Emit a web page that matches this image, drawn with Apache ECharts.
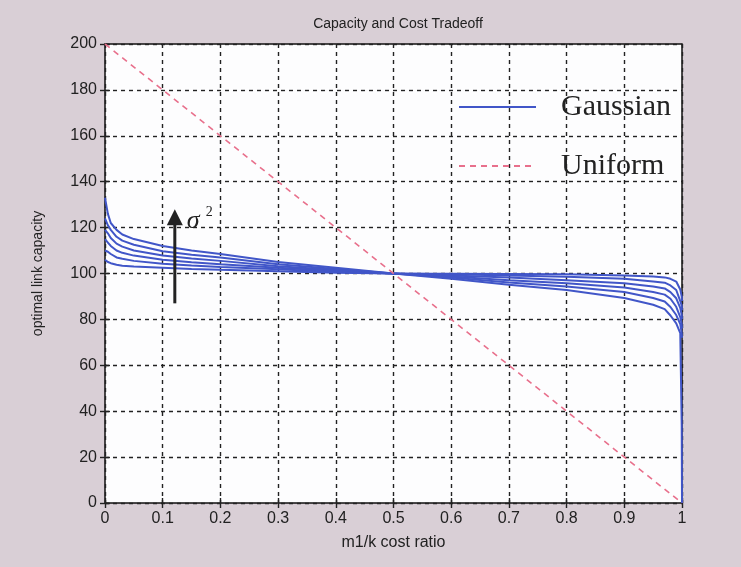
<!DOCTYPE html>
<html>
<head>
<meta charset="utf-8">
<script src="https://cdn.jsdelivr.net/npm/echarts@6/dist/echarts.min.js"></script>
<style>
  html, body { margin: 0; padding: 0; background: #d9cfd6; }
  #chart { width: 741px; height: 567px; }
</style>
</head>
<body>
<div id="chart"></div>
<script>
// m1/k cost ratio sample points
let ratio = [0, 0.005, 0.01, 0.02, 0.03, 0.05, 0.1, 0.15, 0.2, 0.3, 0.4, 0.5, 0.6, 0.7, 0.8, 0.9, 0.95, 0.97, 0.98, 0.99, 0.997, 0.9995, 1];

// gaussian curves, smallest variance first
let gauss1 = [106, 105, 104.5, 103.8, 103.4, 103, 102.5, 102, 101.6, 101, 100.3, 100, 99.9, 99.8, 99.7, 99.1, 98.7, 98.3, 97.7, 96.5, 93, 90, 88];
let gauss2 = [110, 109.5, 108.5, 107, 106.4, 105.5, 104.3, 103.5, 102.8, 101.8, 100.7, 100, 99.7, 99.1, 98.6, 97.7, 96.5, 96, 94.8, 92.8, 88, 86, 84];
let gauss3 = [115, 113.5, 112, 110, 109, 107.8, 106, 104.9, 104, 102.5, 101.1, 100, 99.1, 98.3, 97.1, 95.8, 94.3, 93.5, 91.9, 89.2, 85, 82, 80];
let gauss4 = [119, 117.5, 115.5, 113, 111.7, 110, 107.8, 106.5, 105.5, 103.2, 101.5, 100, 98.7, 97.1, 95.8, 93.9, 91.9, 90.8, 89, 85.5, 81, 78, 76];
let gauss5 = [124, 121, 119, 116, 114.3, 112.5, 109.7, 108.2, 107, 104, 102, 100, 98.3, 96.1, 94.3, 91.9, 89.3, 87.8, 85.4, 81.9, 78, 74, 72];
let gauss6 = [133, 126, 122, 119, 117, 115, 112, 110, 108.5, 105, 102.5, 100, 97.7, 95.1, 92.8, 89.3, 86.4, 84.5, 81.7, 78.3, 74, 34, 0];
let gaussCurves = [gauss1, gauss2, gauss3, gauss4, gauss5, gauss6];

// uniform case
let uniformX = [0, 1];
let uniformY = [200, 0];

// sigma^2 arrow (data coords)
let arrowX = 0.121;
let arrowFrom = 87;
let arrowTo = 128;

let chart = echarts.init(document.getElementById("chart"));

let gridLine = { show: true, lineStyle: { color: "#222", width: 1.4, type: [4, 4] } };
let tickIn = { show: true, inside: true, length: 5, lineStyle: { color: "#222", width: 1.4 } };
let labelFont = { color: "#222", fontFamily: "Liberation Sans", fontSize: 16 };

let series = gaussCurves.map(function (curve) {
  return {
    name: "Gaussian",
    type: "line",
    symbol: "none",
    lineStyle: { color: "#4156c8", width: 2 },
    itemStyle: { color: "#4156c8" },
    data: ratio.map(function (r, i) { return [r, curve[i]]; }),
    z: 3
  };
});
series.push({
  name: "Uniform",
  type: "line",
  symbol: "none",
  lineStyle: { color: "#e8708c", width: 1.6, type: [6, 5] },
  itemStyle: { color: "#e8708c" },
  data: uniformX.map(function (x, i) { return [x, uniformY[i]]; }),
  z: 4
});

let option = {
  backgroundColor: "#d9cfd6",
  animation: false,
  title: {
    text: "Capacity and Cost Tradeoff",
    left: 393,
    textAlign: "center",
    top: 12,
    textStyle: { color: "#222", fontFamily: "Liberation Sans", fontSize: 14, fontWeight: "normal" }
  },
  legend: {
    data: ["Gaussian", "Uniform"],
    orient: "vertical",
    left: 453,
    top: 86,
    itemWidth: 77,
    itemHeight: 4,
    itemGap: 27,
    selectedMode: false,
    itemStyle: { opacity: 0 },
    textStyle: {
      color: "#222",
      fontFamily: "Liberation Serif",
      fontSize: 30,
      lineHeight: 32,
      padding: [0, 0, 0, 20]
    }
  },
  grid: {
    left: 105,
    right: 59,
    top: 44,
    bottom: 64,
    show: true,
    backgroundColor: "#fdfdfe",
    borderColor: "#111",
    borderWidth: 1.5
  },
  xAxis: [{
    type: "value",
    min: 0,
    max: 1,
    interval: 0.1,
    name: "m1/k cost ratio",
    nameLocation: "middle",
    nameGap: 32,
    nameTextStyle: labelFont,
    axisLine: { show: false },
    axisTick: tickIn,
    axisLabel: Object.assign({ margin: 8 }, labelFont),
    splitLine: gridLine
  }, {
    type: "value",
    position: "top",
    min: 0,
    max: 1,
    interval: 0.1,
    axisLine: { show: false },
    axisTick: tickIn,
    axisLabel: { show: false },
    splitLine: { show: false }
  }],
  yAxis: [{
    type: "value",
    min: 0,
    max: 200,
    interval: 20,
    name: "optimal link capacity",
    nameLocation: "middle",
    nameGap: 60,
    nameTextStyle: Object.assign({}, labelFont, { fontSize: 14 }),
    axisLine: { show: false },
    axisTick: tickIn,
    axisLabel: Object.assign({ margin: 8 }, labelFont),
    splitLine: gridLine
  }, {
    type: "value",
    position: "right",
    min: 0,
    max: 200,
    interval: 20,
    axisLine: { show: false },
    axisTick: tickIn,
    axisLabel: { show: false },
    splitLine: { show: false }
  }],
  series: series
};

chart.setOption(option);

// the sigma^2 arrow annotation
let pFrom = chart.convertToPixel({ gridIndex: 0 }, [arrowX, arrowFrom]);
let pTo = chart.convertToPixel({ gridIndex: 0 }, [arrowX, arrowTo]);
chart.setOption({
  graphic: [{
    type: "line",
    shape: { x1: pFrom[0], y1: pFrom[1], x2: pTo[0], y2: pTo[1] + 14 },
    style: { stroke: "#222", lineWidth: 3 },
    z: 10
  }, {
    type: "polygon",
    shape: { points: [[pTo[0] - 8, pTo[1] + 16], [pTo[0] + 8, pTo[1] + 16], [pTo[0], pTo[1]]] },
    style: { fill: "#222" },
    z: 10
  }, {
    type: "text",
    x: pTo[0] + 12,
    y: pTo[1] + 12,
    style: {
      text: "σ",
      fill: "#222",
      font: "italic 26px 'Liberation Serif'",
      verticalAlign: "middle"
    },
    z: 10
  }, {
    type: "text",
    x: pTo[0] + 31,
    y: pTo[1] + 3,
    style: {
      text: "2",
      fill: "#222",
      font: "14px 'Liberation Serif'",
      verticalAlign: "middle"
    },
    z: 10
  }]
});
</script>
</body>
</html>
